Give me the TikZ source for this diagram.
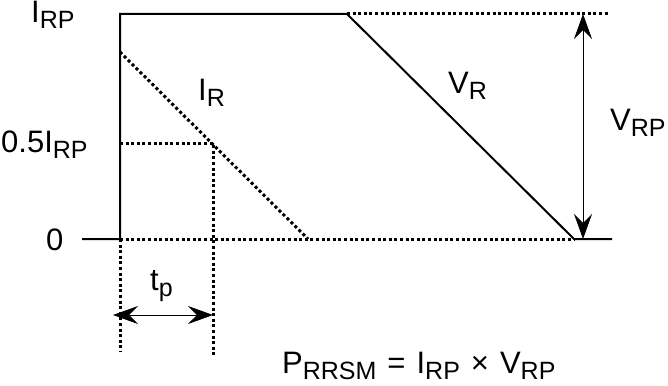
\documentclass[tikz,border=0pt]{standalone}
\usepackage{fontspec}
\setmainfont{Liberation Sans}
\usetikzlibrary{arrows.meta}
\newcommand{\lo}[1]{\raisebox{-6pt}{\fontsize{25}{25}\selectfont #1}}
\newcommand{\gap}{\hspace{11pt}}
\begin{document}
\begin{tikzpicture}[x=1pt, y=-1pt, font=\fontsize{31}{34}\selectfont,
    solidline/.style={line width=2pt},
    dotline/.style={line width=3pt, dash pattern=on 3pt off 2.6pt},
    dimline/.style={line width=0.8pt,
        {Stealth[length=25pt,width=18pt,inset=9pt]}-{Stealth[length=25pt,width=18pt,inset=9pt]}},
    lbl/.style={anchor=base west, inner sep=0pt}]
    \useasboundingbox (0,0) rectangle (668,385);
    % corner points
    \coordinate (start) at (82,239);
    \coordinate (o) at (120,239);
    \coordinate (top) at (120,14);
    \coordinate (knee) at (347,14);
    \coordinate (vend) at (574,239);
    \coordinate (vtail) at (612,239);
    \coordinate (toptail) at (609,14);
    \coordinate (istart) at (120,52);
    \coordinate (iend) at (308,239);
    \coordinate (half) at (120,143);
    \coordinate (hx) at (213,143);
    \coordinate (hlow) at (213,355);
    \coordinate (olow) at (120,352);
    % curves
    \draw[dotline] (knee)--(toptail);
    \draw[dotline] (o)--(vend);
    \draw[dotline] (istart)--(iend);
    \draw[dotline] (half)--(hx)--(hlow);
    \draw[dotline] (o)--(olow);
    \draw[solidline] (start)--(o)--(top)--(knee)--(vend)--(vtail);
    % dimensions
    \coordinate (vrpa) at (583,14);
    \coordinate (vrpb) at (583,239);
    \draw[dimline] (vrpa)--(vrpb);
    \coordinate (tpa) at (113,315);
    \coordinate (tpb) at (213,315);
    \draw[dimline] (tpa)--(tpb);
    % labels
    \node[lbl] (irp) at (31,23) {I\lo{RP}};
    \node[lbl] (ihalf) at (1,152) {0.5I\lo{RP}};
    \node[lbl] (zero) at (46,250) {0};
    \node[lbl] (ir) at (198,100) {I\lo{R}};
    \node[lbl] (vr) at (448,93) {V\lo{R}};
    \node[lbl] (vrp) at (610,130) {V\lo{RP}};
    \node[lbl] (tp) at (150,290) {t\lo{p}};
    \node[lbl] (prrsm) at (282,373) {P\lo{RRSM}\gap=\gap I\lo{RP}\gap×\gap V\lo{RP}};
\end{tikzpicture}
\end{document}
